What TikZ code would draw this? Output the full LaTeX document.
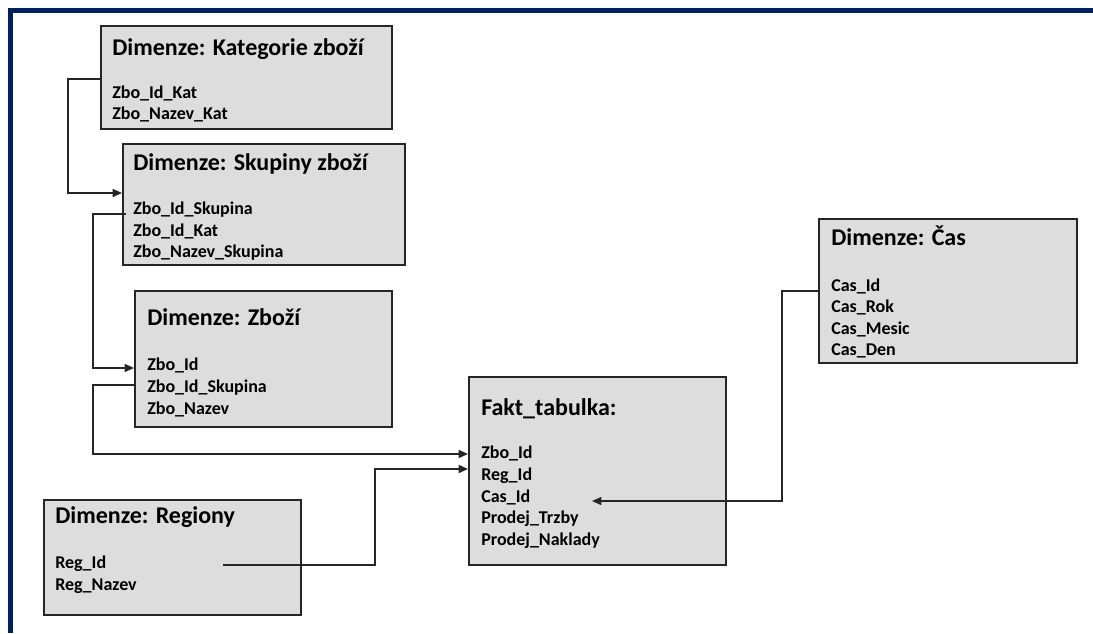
\documentclass[tikz,border=0pt]{standalone}
\usepackage{fontspec}
\setmainfont{Carlito}
\usetikzlibrary{arrows.meta,fit}
\definecolor{navy}{HTML}{002060}
\definecolor{boxfill}{HTML}{DDDDDD}
\definecolor{boxline}{HTML}{262626}
\definecolor{linkcol}{HTML}{262626}
\tikzset{
  tbl/.style={draw=boxline, fill=boxfill, line width=1.5pt, inner sep=0pt},
  ttl/.style={anchor=base west, inner sep=0pt, font=\fontsize{18}{21}\selectfont\bfseries},
  itm/.style={anchor=base west, inner sep=0pt, font=\fontsize{13.5}{16}\selectfont\bfseries},
  link/.style={draw=linkcol, line width=1.1pt},
  arrlink/.style={link, -{Triangle[length=7pt,width=6pt]}},
}
\begin{document}
\begin{tikzpicture}[x=0.75pt,y=-0.75pt]
\useasboundingbox (0,0) rectangle (1093,633);
\draw[navy, line width=3.5pt] (1093,10.5) -- (10.5,10.5) -- (10.5,633);

% boxes
\node[tbl, fit={(101,26)(392,129)}] (kat) {};
\node[tbl, fit={(123,144)(405,265)}] (sku) {};
\node[tbl, fit={(135,291)(392,427)}] (zbo) {};
\node[tbl, fit={(44,500)(301,615)}] (reg) {};
\node[tbl, fit={(469,377)(726,565)}] (fakt) {};
\node[tbl, fit={(819,219)(1077,363)}] (cas) {};

% Kategorie
\node[ttl] (katT) at (112,55) {Dimenze: Kategorie zboží};
\node[itm] (katA) at (112,98) {Zbo\_Id\_Kat};
\node[itm] (katB) at (112,119) {Zbo\_Nazev\_Kat};
% Skupiny
\node[ttl] (skuT) at (133,170) {Dimenze: Skupiny zboží};
\node[itm] (skuA) at (133,214) {Zbo\_Id\_Skupina};
\node[itm] (skuB) at (133,236) {Zbo\_Id\_Kat};
\node[itm] (skuC) at (133,257) {Zbo\_Nazev\_Skupina};
% Zbozi
\node[ttl] (zboT) at (147,325) {Dimenze: Zboží};
\node[itm] (zboA) at (147,370) {Zbo\_Id};
\node[itm] (zboB) at (147,392) {Zbo\_Id\_Skupina};
\node[itm] (zboC) at (147,414) {Zbo\_Nazev};
% Regiony
\node[ttl] (regT) at (55,523) {Dimenze: Regiony};
\node[itm] (regA) at (55,568) {Reg\_Id};
\node[itm] (regB) at (55,590) {Reg\_Nazev};
% Fakt
\node[ttl] (faktT) at (481,415) {Fakt\_tabulka:};
\node[itm] (faktA) at (481,458) {Zbo\_Id};
\node[itm] (faktB) at (481,480) {Reg\_Id};
\node[itm] (faktC) at (481,502) {Cas\_Id};
\node[itm] (faktD) at (481,523.5) {Prodej\_Trzby};
\node[itm] (faktE) at (481,545) {Prodej\_Naklady};
% Cas
\node[ttl] (casT) at (831,245) {Dimenze: Čas};
\node[itm] (casA) at (831,291) {Cas\_Id};
\node[itm] (casB) at (831,312.5) {Cas\_Rok};
\node[itm] (casC) at (831,334) {Cas\_Mesic};
\node[itm] (casD) at (831,355.5) {Cas\_Den};

% helper coordinates
\coordinate (r1) at (68,79);
\coordinate (r1e) at (0,193);
\coordinate (r2) at (93,214);
\coordinate (r2e) at (0,368);
\coordinate (r3) at (93,385);
\coordinate (r3e) at (0,454);
\coordinate (r4s) at (223,565);
\coordinate (r4) at (375,565);
\coordinate (r4e) at (0,469);
\coordinate (r5) at (782,291);
\coordinate (r5e) at (592,501);

% connectors
\draw[arrlink] (kat.west |- r1) -- (r1) |- (sku.west |- r1e);
\draw[arrlink] (126,214) -- (r2) |- (zbo.west |- r2e);
\draw[arrlink] (zbo.west |- r3) -- (r3) |- (fakt.west |- r3e);
\draw[arrlink] (r4s) -- (r4) |- (fakt.west |- r4e);
\draw[arrlink] (cas.west |- r5) -- (r5) |- (r5e);
\end{tikzpicture}
\end{document}
